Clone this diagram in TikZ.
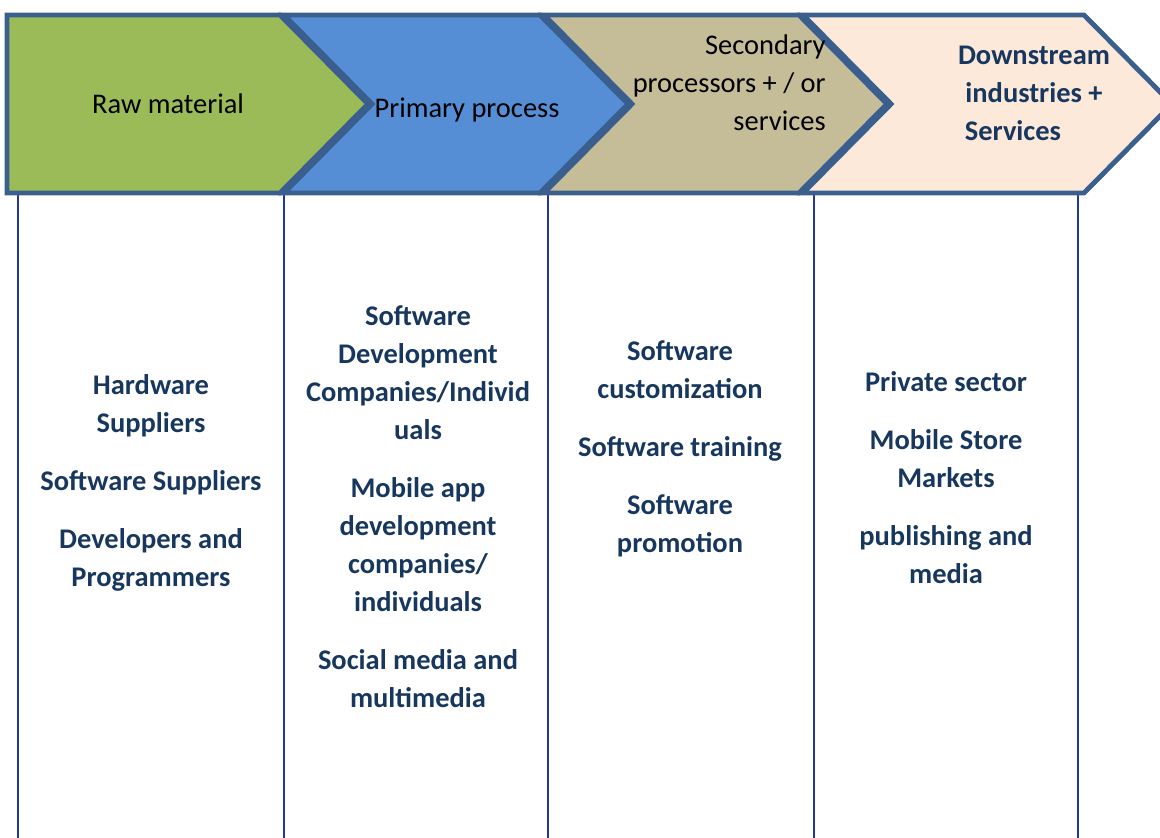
\documentclass[tikz,border=0pt]{standalone}
\usepackage{fontspec}
\setmainfont{Carlito}

\definecolor{rawgreen}{HTML}{9BBB59}
\definecolor{primblue}{HTML}{558ED5}
\definecolor{secotan}{HTML}{C4BD97}
\definecolor{downpeach}{HTML}{FDE9D9}
\definecolor{chevline}{HTML}{3A5F8F}
\definecolor{colblue}{HTML}{22399A}
\definecolor{txtnavy}{HTML}{17375E}

\begin{document}
\begin{tikzpicture}[x=0.02cm, y=-0.02cm,
    chev/.style={draw=chevline, line width=2.8pt, line join=miter},
    colline/.style={draw=colblue, line width=1.1pt},
    head/.style={font=\fontsize{16.2}{21.6}\selectfont, inner sep=0pt},
    body/.style={font=\fontsize{16.2}{21.6}\selectfont\bfseries, text=txtnavy, align=center, inner sep=0pt}]
    \useasboundingbox (0,0) rectangle (1160,838);

    % column rules
    \foreach \cx in {18,284,548,814,1078}
        \draw[colline] (\cx,195) -- (\cx,838);

    % chevrons
    \draw[chev, fill=rawgreen] (7,15) -- (280,15) -- (368,104) -- (280,193) -- (7,193) -- cycle;
    \draw[chev, fill=primblue] (284,15) -- (540,15) -- (628,104) -- (540,193) -- (284,193) -- (372,104) -- cycle;
    \draw[chev, fill=secotan] (544,15) -- (799,15) -- (887,104) -- (799,193) -- (544,193) -- (632,104) -- cycle;
    \draw[chev, fill=downpeach] (803,15) -- (1084,15) -- (1172,104) -- (1084,193) -- (803,193) -- (891,104) -- cycle;

    % headings
    \node[head] (raw) at (168,104) {Raw material};
    \node[head] (prim) at (467,110) {Primary process};
    \node[head, align=right, anchor=east] (seco) at (826,83) {Secondary\\processors + / or\\services};
    \node[head, align=center, font=\fontsize{16.2}{21.6}\selectfont\bfseries, text=txtnavy] (down) at (1034,93) {Downstream\\industries +\\Services\hspace*{0.84cm}};

    % column contents
    \node[body] (rawlist) at (151,483) {Hardware\\Suppliers\\[11.4pt]Software Suppliers\\[11.4pt]Developers and\\Programmers};
    \node[body] (primlist) at (418,507) {Software\\Development\\Companies/Individ\\uals\\[11.4pt]Mobile app\\development\\companies/\\individuals\\[11.4pt]Social media and\\multimedia};
    \node[body] (secolist) at (680,449) {Software\\customization\\[11.4pt]Software training\\[11.4pt]Software\\promotion};
    \node[body] (downlist) at (946,478) {Private sector\\[11.4pt]Mobile Store\\Markets\\[11.4pt]publishing and\\media};
\end{tikzpicture}
\end{document}
